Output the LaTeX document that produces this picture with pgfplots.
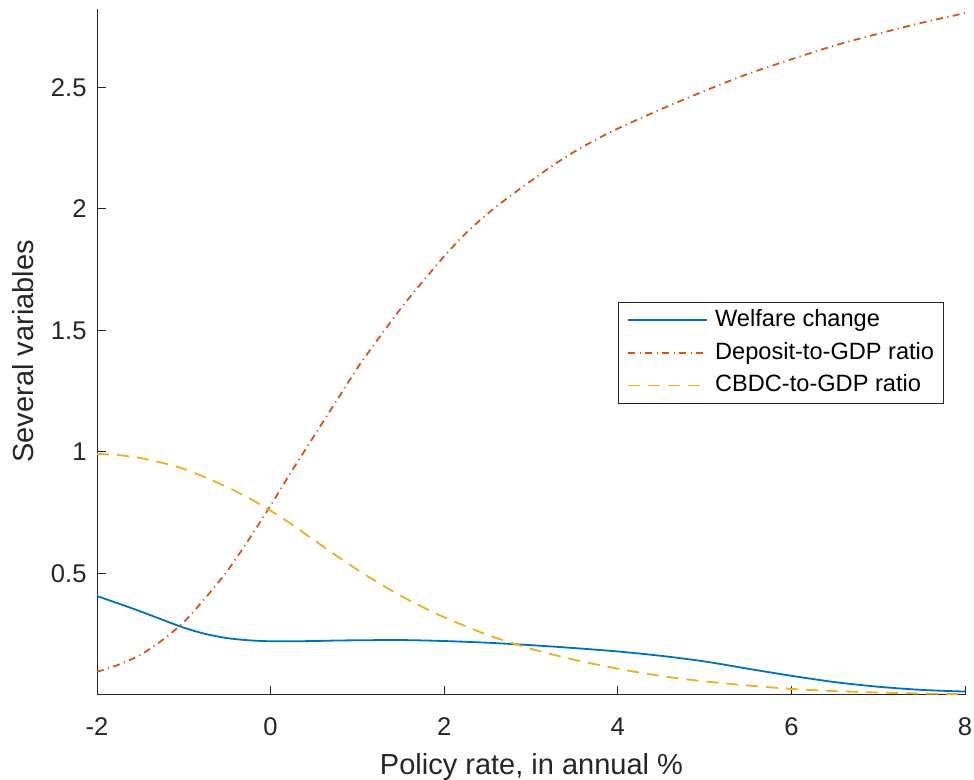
\documentclass[border=0pt]{standalone}
\usepackage{pgfplots}
\pgfplotsset{compat=1.18}
\usepackage{fontspec}
\setmainfont{Liberation Sans}
\definecolor{mblue}{rgb}{0,0.447,0.741}
\definecolor{morange}{rgb}{0.85,0.325,0.098}
\definecolor{myellow}{rgb}{0.929,0.694,0.125}
\definecolor{axgray}{rgb}{0.15,0.15,0.15}
\pgfplotstableread{
x y
-2 0.407
-1.75 0.376
-1.5 0.344
-1.25 0.310
-1.0 0.277
-0.75 0.251
-0.5 0.234
-0.25 0.225
0 0.221
0.25 0.221
0.5 0.222
0.75 0.224
1.0 0.225
1.5 0.226
2.0 0.222
2.5 0.215
3.0 0.205
3.5 0.193
4.0 0.179
4.5 0.161
5.0 0.138
5.5 0.108
6.0 0.079
6.5 0.053
7.0 0.034
7.5 0.021
8.0 0.014
}\welfare
\pgfplotstableread{
x y
-2 0.095
-1.75 0.125
-1.5 0.165
-1.25 0.225
-1.0 0.30
-0.75 0.40
-0.5 0.51
-0.25 0.64
0 0.78
0.25 0.925
0.5 1.065
0.75 1.205
1.0 1.345
1.25 1.47
1.5 1.59
1.75 1.70
2.0 1.805
2.25 1.90
2.5 1.98
2.75 2.05
3.0 2.115
3.25 2.178
3.5 2.235
3.75 2.285
4.0 2.33
4.5 2.41
5.0 2.485
5.5 2.555
6.0 2.615
6.5 2.672
7.0 2.72
7.5 2.765
8.0 2.805
}\deposit
\pgfplotstableread{
x y
-2 0.992
-1.75 0.987
-1.5 0.975
-1.25 0.955
-1.0 0.93
-0.75 0.895
-0.5 0.855
-0.25 0.81
0 0.758
0.25 0.70
0.5 0.637
0.75 0.575
1.0 0.515
1.25 0.46
1.5 0.408
1.75 0.362
2.0 0.32
2.5 0.247
3.0 0.19
3.5 0.145
4.0 0.108
4.5 0.078
5.0 0.056
5.5 0.039
6.0 0.025
6.5 0.016
7.0 0.010
7.5 0.006
8.0 0.003
}\cbdc
\begin{document}
\begin{tikzpicture}
\path[use as bounding box] (-48.5pt,-42.5pt) rectangle (438.5pt,347.5pt);
\begin{axis}[
  at={(0,0)}, anchor=south west,
  scale only axis, width=434pt, height=343pt,
  xmin=-2, xmax=8, ymin=0, ymax=2.822,
  xtick={-2,0,2,4,6,8},
  ytick={0.5,1,1.5,2,2.5},
  axis x line*=bottom, axis y line*=left,
  axis line style={color=axgray, line width=0.5pt},
  tick align=inside,
  major tick length=4.5pt,
  tick style={color=axgray, line width=0.5pt},
  /pgf/number format/assume math mode=true,
  tick label style={font=\fontsize{12.8}{15}\selectfont, color=axgray},
  xticklabel style={yshift=-8pt},
  yticklabel style={xshift=-1.7pt},
  xlabel={Policy rate, in annual \%},
  ylabel={Several variables},
  label style={font=\fontsize{14.5}{17}\selectfont, color=axgray},
  xlabel style={at={(axis description cs:0.5006,-0.1152)}, anchor=base},
  ylabel style={at={(axis description cs:-0.0726,0.501)}, anchor=base},
  legend style={at={(0.600,0.573)}, anchor=north west,
    draw=axgray, line width=0.5pt, fill=white,
    inner xsep=4.5pt, inner ysep=0.8pt,
    column sep=3.5pt,
    font=\fontsize{11.8}{14}\selectfont,
    nodes={inner xsep=0pt, inner ysep=2.45pt, text height=8.8pt, text depth=2.6pt, text=black}},
  legend cell align=left,
  legend image code/.code={\draw[#1] (0pt,0pt) -- (39.5pt,0pt);},
]
\addplot[mblue, line width=0.9pt, smooth] table {\welfare};
\addlegendentry{Welfare change}
\addplot[morange, line width=0.9pt, smooth, dash pattern=on 3.5pt off 2.2pt on 0.6pt off 2.2pt] table {\deposit};
\addlegendentry{Deposit-to-GDP ratio}
\addplot[myellow, line width=0.9pt, smooth, dash pattern=on 6pt off 4pt] table {\cbdc};
\addlegendentry{CBDC-to-GDP ratio}
\end{axis}
\end{tikzpicture}
\end{document}
